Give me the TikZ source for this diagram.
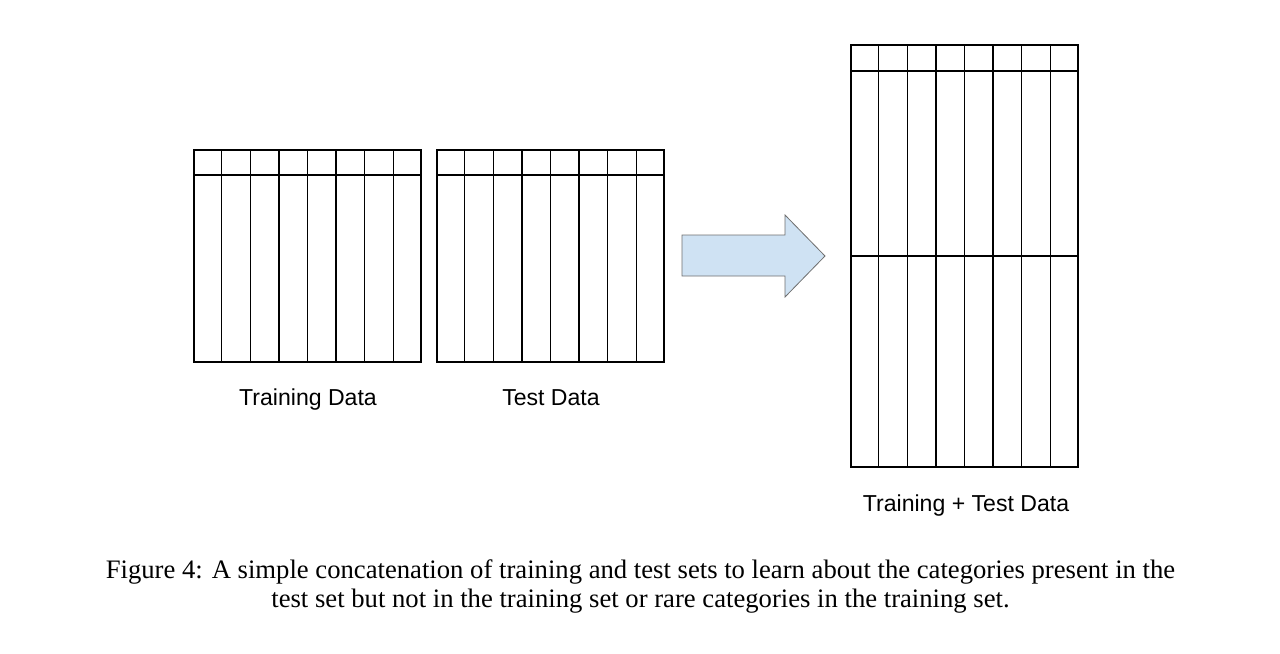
\documentclass[tikz,border=0pt]{standalone}
\usepackage{fontspec}
\setmainfont{Liberation Serif}
\newfontfamily\labelfont{Liberation Sans}
\usetikzlibrary{calc, positioning}
\definecolor{arrowfill}{HTML}{CFE2F3}
\definecolor{arrowline}{HTML}{6F6F6F}

\tikzset{
  tablebox/.style={draw, line width=1.3pt, rectangle, inner sep=0pt, minimum width=227pt*0.75, minimum height=212pt*0.75},
  gridline/.style={line width=1.05pt},
  datalabel/.style={anchor=base, font=\labelfont\fontsize{17.3}{20}\selectfont, inner sep=0pt},
  captext/.style={anchor=base, font=\fontsize{20}{24}\selectfont, inner sep=0pt}
}

\begin{document}
\begin{tikzpicture}[x=0.75pt, y=-0.75pt]
  \useasboundingbox (0,0) rectangle (1280,653);

  % the two source tables
  \node[tablebox] (train) at (307.5,256) {};
  \node[tablebox] (test) at (550.5,256) {};
  \foreach \t in {train, test} {
    \draw[gridline] ($(\t.north west)+(0,26)$) -- ($(\t.north east)+(0,26)$);
    \foreach \i in {1,...,7} {
      \draw[gridline] ($(\t.north west)!\i/8!(\t.north east)$) -- ($(\t.south west)!\i/8!(\t.south east)$);
    }
  }

  % the concatenated table
  \node[tablebox, minimum height=422pt*0.75] (both) at (964.5,256) {};
  \draw[gridline] ($(both.north west)+(0,27)$) -- ($(both.north east)+(0,27)$);
  \draw[line width=1.3pt] (both.west) -- (both.east);
  \foreach \i in {1,...,7} {
    \draw[gridline] ($(both.north west)!\i/8!(both.north east)$) -- ($(both.south west)!\i/8!(both.south east)$);
  }

  % block arrow
  \coordinate (tail) at (682,235);
  \coordinate (tip) at (825,256);
  \draw[arrowline, fill=arrowfill, line width=0.6pt]
    (tail) -- (785,235) -- (785,215) -- (tip) -- (785,297) -- (785,276) -- (682,276) -- cycle;

  % labels
  \node[datalabel] (trainlbl) at (308,405) {Training Data};
  \node[datalabel] (testlbl) at (551,405) {Test Data};
  \node[datalabel] (bothlbl) at (966,511) {Training + Test Data};

  % caption
  \node[captext] (cap1) at (640.5,578) {Figure 4: A simple concatenation of training and test sets to learn about the categories present in the};
  \node[captext] (cap2) at (640.5,607) {test set but not in the training set or rare categories in the training set.};
\end{tikzpicture}
\end{document}
